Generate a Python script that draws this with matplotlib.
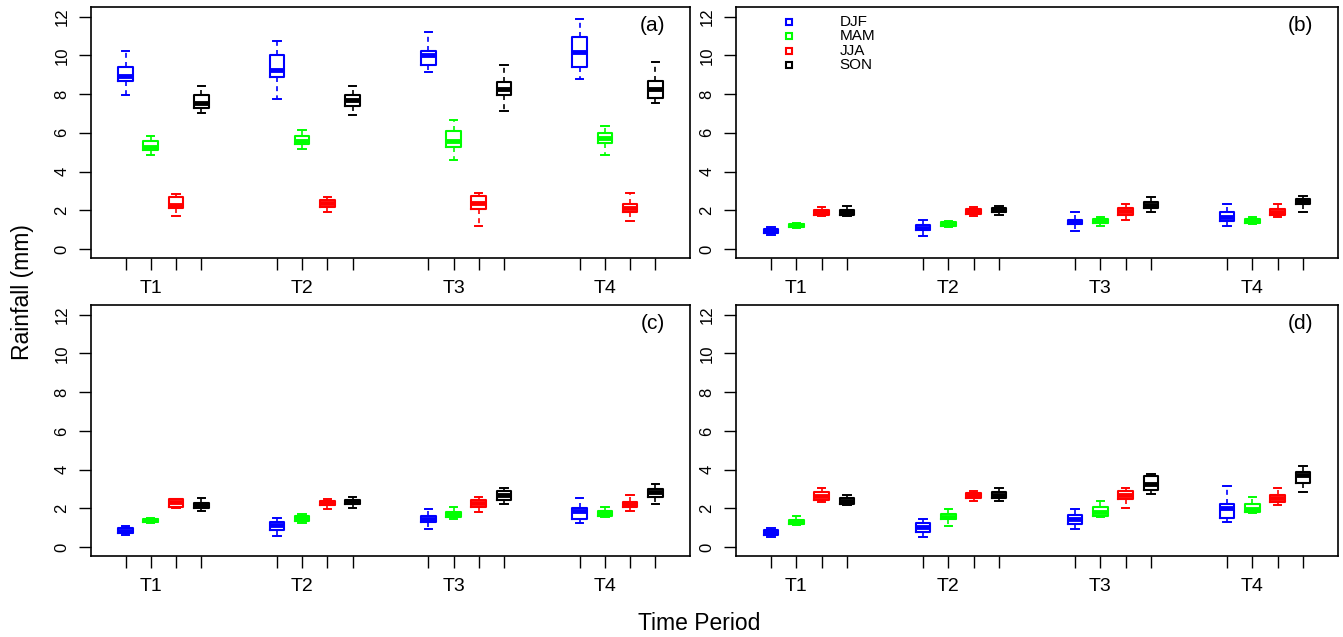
import matplotlib.pyplot as plt
import numpy as np

plt.rcParams['font.family'] = ['Liberation Sans', 'DejaVu Sans']

periods = ['T1', 'T2', 'T3', 'T4']
seasons = ['DJF', 'MAM', 'JJA', 'SON']
season_colors = ['#0000FF', '#00FF00', '#FF0000', '#000000']

# each row: lower whisker, Q1, median, Q3, upper whisker
# rows go T1 DJF, T1 MAM, T1 JJA, T1 SON, T2 DJF, ... T4 SON
stats_a = [
    [7.95, 8.69, 8.93, 9.42, 10.20],
    [4.85, 5.12, 5.29, 5.59, 5.86],
    [1.72, 2.14, 2.28, 2.67, 2.83],
    [7.02, 7.29, 7.54, 7.97, 8.40],
    [7.74, 8.90, 9.26, 10.00, 10.73],
    [5.14, 5.40, 5.59, 5.81, 6.16],
    [1.93, 2.16, 2.38, 2.52, 2.66],
    [6.93, 7.36, 7.69, 7.97, 8.40],
    [9.12, 9.48, 10.02, 10.21, 11.23],
    [4.62, 5.28, 5.59, 6.09, 6.66],
    [1.21, 2.07, 2.40, 2.73, 2.88],
    [7.10, 7.95, 8.26, 8.62, 9.48],
    [8.76, 9.40, 10.16, 10.95, 11.88],
    [4.85, 5.48, 5.71, 6.00, 6.36],
    [1.43, 1.91, 2.10, 2.31, 2.90],
    [7.52, 7.81, 8.26, 8.69, 9.64],
]

stats_b = [
    [0.71, 0.81, 0.93, 1.03, 1.14],
    [1.10, 1.14, 1.22, 1.31, 1.36],
    [1.69, 1.76, 1.91, 2.03, 2.17],
    [1.71, 1.78, 1.91, 2.03, 2.24],
    [0.69, 0.97, 1.10, 1.24, 1.50],
    [1.14, 1.17, 1.28, 1.40, 1.45],
    [1.71, 1.81, 1.95, 2.07, 2.19],
    [1.78, 1.90, 2.00, 2.12, 2.24],
    [0.91, 1.28, 1.40, 1.52, 1.90],
    [1.21, 1.33, 1.45, 1.55, 1.66],
    [1.50, 1.78, 1.97, 2.10, 2.31],
    [1.93, 2.14, 2.29, 2.43, 2.67],
    [1.21, 1.43, 1.66, 1.90, 2.31],
    [1.28, 1.33, 1.45, 1.55, 1.66],
    [1.64, 1.78, 1.93, 2.07, 2.31],
    [1.93, 2.31, 2.47, 2.60, 2.74],
]

stats_c = [
    [0.63, 0.72, 0.84, 0.97, 1.09],
    [1.25, 1.30, 1.38, 1.45, 1.50],
    [2.00, 2.05, 2.32, 2.46, 2.49],
    [1.86, 2.02, 2.15, 2.29, 2.54],
    [0.58, 0.87, 1.13, 1.31, 1.52],
    [1.23, 1.35, 1.50, 1.62, 1.72],
    [1.95, 2.15, 2.27, 2.39, 2.46],
    [2.02, 2.22, 2.32, 2.43, 2.59],
    [0.94, 1.31, 1.47, 1.59, 1.95],
    [1.45, 1.57, 1.69, 1.83, 2.08],
    [1.79, 2.08, 2.26, 2.41, 2.59],
    [2.24, 2.44, 2.70, 2.89, 3.04],
    [1.23, 1.45, 1.86, 2.00, 2.53],
    [1.57, 1.62, 1.76, 1.86, 2.08],
    [1.88, 2.08, 2.22, 2.31, 2.68],
    [2.24, 2.59, 2.84, 2.99, 3.25],
]

stats_d = [
    [0.51, 0.63, 0.77, 0.89, 1.01],
    [1.15, 1.18, 1.31, 1.42, 1.59],
    [2.31, 2.43, 2.62, 2.84, 3.04],
    [2.15, 2.22, 2.39, 2.51, 2.68],
    [0.51, 0.80, 1.03, 1.25, 1.45],
    [1.08, 1.44, 1.55, 1.69, 1.95],
    [2.37, 2.54, 2.67, 2.77, 2.90],
    [2.37, 2.56, 2.70, 2.85, 3.04],
    [0.94, 1.21, 1.45, 1.67, 1.95],
    [1.57, 1.61, 1.83, 2.08, 2.39],
    [2.02, 2.46, 2.67, 2.89, 3.04],
    [2.73, 2.95, 3.28, 3.67, 3.76],
    [1.30, 1.50, 2.00, 2.24, 3.18],
    [1.76, 1.79, 1.98, 2.24, 2.59],
    [2.15, 2.34, 2.54, 2.68, 3.04],
    [2.82, 3.31, 3.74, 3.88, 4.18],
]

group_starts = [1, 7, 13, 19]


def draw_panel(ax, stats, tag, show_legend=False):
    all_pos = []
    labels = []
    for g, start in enumerate(group_starts):
        for s in range(len(seasons)):
            all_pos.append(start + s)
            labels.append(periods[g] if s == 1 else '')

    for s, col in enumerate(season_colors):
        boxes = []
        pos = []
        for g, start in enumerate(group_starts):
            lo, q1, med, q3, hi = stats[g * 4 + s]
            boxes.append(dict(whislo=lo, q1=q1, med=med, q3=q3, whishi=hi, fliers=[]))
            pos.append(start + s)
        ax.bxp(boxes, positions=pos, widths=0.58, showfliers=False, manage_ticks=False,
               boxprops=dict(color=col, lw=1.5),
               medianprops=dict(color=col, lw=3.5, solid_capstyle='butt'),
               whiskerprops=dict(color=col, lw=1.2, ls=(0, (3, 2.5))),
               capprops=dict(color=col, lw=1.4))

    ax.set_xlim(-0.38, 23.38)
    ax.set_ylim(-0.48, 12.48)
    ax.set_xticks(all_pos)
    ax.set_xticklabels(labels, fontsize=14)
    ax.set_yticks(np.arange(0, 13, 2))
    ax.tick_params(axis='x', direction='out', length=8.6, width=1, pad=7)
    ax.tick_params(axis='y', direction='out', length=8.4, width=1, pad=7,
                   labelsize=12, labelrotation=90)
    for lab in ax.get_yticklabels():
        lab.set_va('center')
    for sp in ax.spines.values():
        sp.set_linewidth(1.2)
    ax.text(0.937, 0.928, tag, transform=ax.transAxes, fontsize=15,
            ha='center', va='center')

    if show_legend:
        leg_y = [0.942, 0.886, 0.826, 0.771]
        for name, col, yy in zip(seasons, season_colors, leg_y):
            ax.plot([0.088], [yy], marker='s', ms=5, mfc='none', mec=col, mew=1.5,
                    transform=ax.transAxes, ls='none')
            ax.text(0.172, yy, name, transform=ax.transAxes, fontsize=11,
                    ha='left', va='center')


fig = plt.figure(figsize=(13.43, 6.37), dpi=100)
w_left = 599.5 / 1343
w_right = 602 / 1343
h = 251 / 637
ax_a = fig.add_axes([90.7 / 1343, 1 - 258.3 / 637, w_left, h])
ax_b = fig.add_axes([736 / 1343, 1 - 258.3 / 637, w_right, h])
ax_c = fig.add_axes([90.7 / 1343, 1 - 556.4 / 637, w_left, h])
ax_d = fig.add_axes([736 / 1343, 1 - 556.4 / 637, w_right, h])

draw_panel(ax_a, stats_a, '(a)')
draw_panel(ax_b, stats_b, '(b)', show_legend=True)
draw_panel(ax_c, stats_c, '(c)')
draw_panel(ax_d, stats_d, '(d)')

fig.text(22 / 1343, 1 - 292.5 / 637, 'Rainfall (mm)', rotation=90, fontsize=16.5,
         ha='center', va='center')
fig.text(699 / 1343, 1 - 623 / 637, 'Time Period', fontsize=16.5,
         ha='center', va='center')

plt.savefig('out.png', dpi=100)
